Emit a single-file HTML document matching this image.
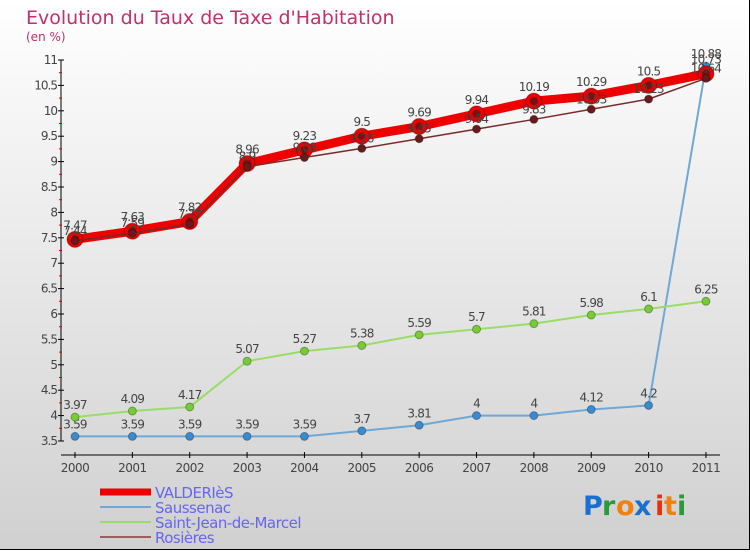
<!DOCTYPE html>
<html><head><meta charset="utf-8"><style>
html,body{margin:0;padding:0;}
body{width:750px;height:550px;overflow:hidden;font-family:"DejaVu Sans","Liberation Sans",sans-serif;}
#wrap{position:relative;width:749px;height:549px;border-right:1px solid #000;border-bottom:1px solid #000;background:linear-gradient(#ffffff,#d0d0d0);}
svg text{font-family:"DejaVu Sans","Liberation Sans",sans-serif;}
</style></head><body>
<div id="wrap">
<svg id="chart" width="750" height="550">
<text x="26" y="24" font-size="19" fill="#c0306a">Evolution du Taux de Taxe d'Habitation</text>
<text x="26" y="41" font-size="12" fill="#c0306a">(en %)</text>
<g id="axes"></g><g id="series"></g><g id="legend"></g>
<g font-size="27" font-weight="bold">
<text x="583" y="515" fill="#1a6fd0">P</text><text x="602" y="515" fill="#2a9a3a">r</text><text x="616" y="515" fill="#f08010">o</text><text x="634" y="515" fill="#1a6fd0">x</text><text x="655" y="515" fill="#e83010">i</text><text x="664" y="515" fill="#f08010">t</text><text x="677" y="515" fill="#2a9a3a">i</text>
</g>
</svg>
</div>
<script>
const years=['2000','2001','2002','2003','2004','2005','2006','2007','2008','2009','2010','2011'];
const valderies=[7.47,7.63,7.82,8.96,9.23,9.5,9.69,9.94,10.19,10.29,10.5,10.73];
const saussenac=[3.59,3.59,3.59,3.59,3.59,3.7,3.81,4,4,4.12,4.2,10.88];
const stjean=[3.97,4.09,4.17,5.07,5.27,5.38,5.59,5.7,5.81,5.98,6.1,6.25];
const rosieres=[7.44,7.59,7.77,8.9,9.08,9.26,9.45,9.64,9.83,10.03,10.23,10.64];
const yTicks=[3.5,4,4.5,5,5.5,6,6.5,7,7.5,8,8.5,9,9.5,10,10.5,11];
const NS='http://www.w3.org/2000/svg';
const X=i=>75+i*57.36;
const Y=v=>441-(v-3.5)*50.8;
function mk(t,a,p){const e=document.createElementNS(NS,t);for(const k in a)e.setAttribute(k,a[k]);p.appendChild(e);return e;}
const axes=document.getElementById('axes');
let yl=mk('line',{x1:61,y1:Y(11),x2:61,y2:Y(3.5),stroke:'#000'},axes);

let xl=mk('line',{x1:61,y1:455,x2:720,y2:455,stroke:'#000'},axes);

yTicks.forEach(v=>{
  mk('line',{x1:58,y1:Y(v),x2:64,y2:Y(v),stroke:'#000'},axes);
  if(v<11){mk('line',{x1:59,y1:Y(v+0.25),x2:62,y2:Y(v+0.25),stroke:'#e00000'},axes);}
  const t=mk('text',{x:57,y:Y(v)+4,'font-size':12,'text-anchor':'end',fill:'#444','letter-spacing':'-1'},axes);
  t.textContent=String(v);
  
});
years.forEach((y,i)=>{
  mk('line',{x1:X(i),y1:452,x2:X(i),y2:458,stroke:'#000'},axes);
  const t=mk('text',{x:X(i),y:472,'font-size':12,'text-anchor':'middle',fill:'#444','letter-spacing':'-0.5'},axes);
  t.textContent=y;
  
});
const ser=document.getElementById('series');
const defs=[
 {name:'saussenac',data:saussenac,color:'#6fa8d6',w:2,dot:'#3a8ad0',r:4,lab:-8},
 {name:'saint-jean-de-marcel',data:stjean,color:'#99dd66',w:2,dot:'#77cc33',r:4,lab:-8},
 {name:'valderies',data:valderies,color:'#ee0000',w:9,dot:'#ee0000',r:8,lab:-10},
 {name:'rosieres',data:rosieres,color:'#7a2a2a',w:1.5,dot:'#6a1a1a',r:4,lab:-6}
];
defs.forEach(d=>{
  const g=mk('g',{},ser);
  
  const pl=mk('polyline',{points:d.data.map((v,i)=>X(i)+','+Y(v)).join(' '),fill:'none',stroke:d.color,'stroke-width':d.w,'stroke-linejoin':'round'},g);
  
  d.data.forEach((v,i)=>{
    const c=mk('circle',{cx:X(i),cy:Y(v),r:d.r,fill:d.dot,stroke:'rgba(0,0,0,0.3)'},g);
    
    if(d.name==='valderies')mk('circle',{cx:X(i),cy:Y(v),r:4,fill:'#7a1010'},g);
    const t=mk('text',{x:X(i),y:Y(v)+d.lab,'font-size':12,'text-anchor':'middle',fill:'#444','letter-spacing':'-0.8'},g);
    t.textContent=String(v);
    
  });
});
const leg=document.getElementById('legend');
const legItems=[['VALDERIèS','#ee0000',7],['Saussenac','#6fa8d6',2],['Saint-Jean-de-Marcel','#99dd66',2],['Rosières','#9a6060',2]];
legItems.forEach((it,i)=>{
  const y=492+i*15;
  const g=mk('g',{},leg);
  
  mk('line',{x1:100,y1:y,x2:151,y2:y,stroke:it[1],'stroke-width':it[2]},g);
  const t=mk('text',{x:155,y:y+6,'font-size':15,fill:'#6666ee','letter-spacing':'-0.5'},g);
  t.textContent=it[0];
});
</script>
</body></html>
